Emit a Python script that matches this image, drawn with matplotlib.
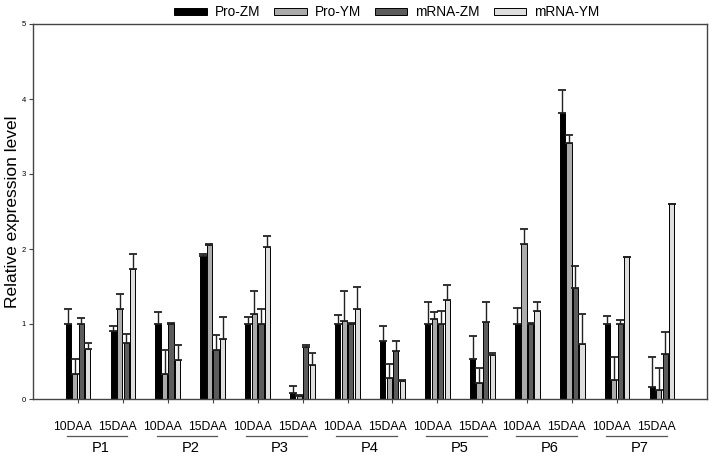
import matplotlib
matplotlib.use("Agg")
import matplotlib.pyplot as plt
import matplotlib.transforms as mtransforms
import numpy as np

plt.rcParams['font.family'] = ['Liberation Sans', 'DejaVu Sans']

genes = ["P1", "P2", "P3", "P4", "P5", "P6", "P7"]
stages = ["10DAA", "15DAA"]
series_names = ["Pro-ZM", "Pro-YM", "mRNA-ZM", "mRNA-YM"]

pro_zm = [1.00, 0.91, 1.00, 1.91, 1.00, 0.08, 1.00, 0.78, 1.00, 0.54, 1.00, 3.82, 1.00, 0.16]
pro_zm_err = [0.20, 0.06, 0.16, 0.03, 0.10, 0.10, 0.12, 0.20, 0.29, 0.30, 0.22, 0.30, 0.11, 0.40]
pro_ym = [0.33, 1.20, 0.34, 2.05, 1.14, 0.04, 1.04, 0.28, 1.07, 0.22, 2.07, 3.42, 0.26, 0.12]
pro_ym_err = [0.20, 0.20, 0.31, 0.02, 0.30, 0.02, 0.40, 0.19, 0.09, 0.20, 0.20, 0.10, 0.30, 0.29]
mrna_zm = [1.00, 0.75, 1.00, 0.66, 1.00, 0.69, 1.00, 0.64, 1.00, 1.03, 1.00, 1.48, 1.00, 0.60]
mrna_zm_err = [0.08, 0.12, 0.01, 0.20, 0.20, 0.03, 0.01, 0.13, 0.17, 0.26, 0.01, 0.29, 0.05, 0.29]
mrna_ym = [0.67, 1.73, 0.52, 0.80, 2.03, 0.46, 1.20, 0.24, 1.32, 0.59, 1.18, 0.73, 1.90, 2.60]
mrna_ym_err = [0.08, 0.20, 0.20, 0.30, 0.14, 0.16, 0.30, 0.02, 0.20, 0.03, 0.12, 0.40, 0.00, 0.00]

values = [pro_zm, pro_ym, mrna_zm, mrna_ym]
errors = [pro_zm_err, pro_ym_err, mrna_zm_err, mrna_ym_err]
colors = ["#000000", "#ababab", "#5c5c5c", "#dedede"]

fig = plt.figure(figsize=(7.09, 4.58), dpi=100)
ax = fig.add_axes([33/709, 59/458, 674/709, 375/458])

n = len(pro_zm)
x = np.arange(1, n + 1)
stride = 0.145
width = 0.115
handles = []
for k, (vals, errs, col) in enumerate(zip(values, errors, colors)):
    pos = x + (k - 1.5) * stride
    b = ax.bar(pos, vals, width=width, color=col, edgecolor="black", linewidth=0.7,
               label=series_names[k], zorder=2)
    handles.append(b)
    ax.errorbar(pos, vals, yerr=[np.zeros(n), errs], fmt="none", ecolor="#222222",
                elinewidth=1.0, capsize=2.7, capthick=1.3, zorder=3)

ax.set_xlim(0, 15)
ax.set_ylim(0, 5)
ax.set_yticks([0, 1, 2, 3, 4, 5])
ax.set_yticklabels(["0", "1", "2", "3", "4", "5"], fontsize=5.5)
ax.set_xticks(x)
ax.set_xticklabels([])
ax.tick_params(axis="both", direction="out", length=3, width=0.8, color="#444444", pad=2)
for s in ax.spines.values():
    s.set_color("#444444")
    s.set_linewidth(1.0)

ax.set_ylabel("Relative expression level", fontsize=12.5, labelpad=1)

trans = mtransforms.blended_transform_factory(ax.transData, ax.transAxes)
for i, g in enumerate(genes):
    g1 = x[2 * i]
    g2 = x[2 * i + 1]
    ax.text(g1 - 0.12, -0.074, stages[0], transform=trans, ha="center", va="center",
            fontsize=8.8, clip_on=False)
    ax.text(g2 - 0.12, -0.074, stages[1], transform=trans, ha="center", va="center",
            fontsize=8.8, clip_on=False)
    ax.plot([g1 - 0.25, g2 + 0.1], [-0.099, -0.099], transform=trans, color="#555555",
            linewidth=0.9, clip_on=False)
    ax.text((g1 + g2) / 2, -0.13, g, transform=trans, ha="center", va="center",
            fontsize=10.5, clip_on=False)

leg = ax.legend(handles=handles, labels=series_names, loc="lower center",
                bbox_to_anchor=(0.525, 0.995), ncol=4, frameon=False, fontsize=9.8,
                handlelength=2.4, handleheight=0.4, columnspacing=1.0,
                handletextpad=0.6, borderaxespad=0.1)

fig.savefig("out.png", dpi=100)
